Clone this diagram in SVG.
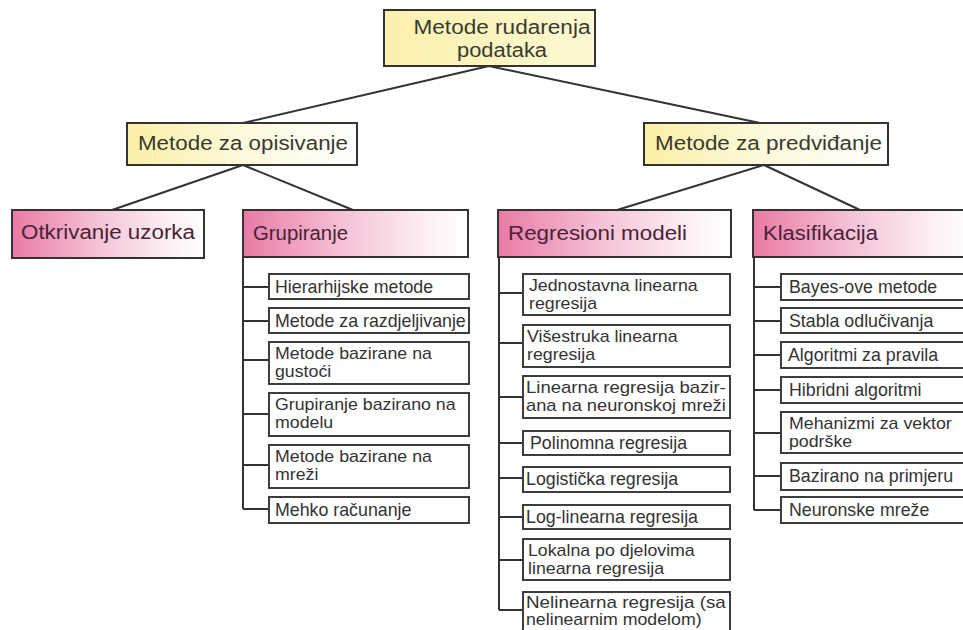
<svg xmlns="http://www.w3.org/2000/svg" width="963" height="630" viewBox="0 0 963 630">
<defs>
<linearGradient id="gyTop" x1="0" y1="0" x2="1" y2="0"><stop offset="0" stop-color="#fbf1ae"/><stop offset="1" stop-color="#fdf8d2"/></linearGradient>
<linearGradient id="gy" x1="0" y1="0" x2="1" y2="0"><stop offset="0" stop-color="#fbf0a6"/><stop offset="0.5" stop-color="#fdf9dc"/><stop offset="1" stop-color="#ffffff"/></linearGradient>
<linearGradient id="gp" x1="0" y1="0" x2="1" y2="0"><stop offset="0" stop-color="#e97aa6"/><stop offset="0.45" stop-color="#f5c3d7"/><stop offset="0.85" stop-color="#fdf3f7"/><stop offset="1" stop-color="#ffffff"/></linearGradient>
</defs>
<style>
.box{stroke:#333;stroke-width:2}
.item{fill:#fff;stroke:#3d3d3d;stroke-width:2}
.conn{stroke:#333;stroke-width:2;fill:none}
.ht{font-family:"Liberation Sans",Arial,sans-serif;font-size:20px;fill:#3a3a30}
.pt{font-family:"Liberation Sans",Arial,sans-serif;font-size:20px;fill:#4a2236}
.it{font-family:"Liberation Sans",Arial,sans-serif;font-size:17.8px;fill:#333}
.i2{font-family:"Liberation Sans",Arial,sans-serif;font-size:16px;fill:#333}
</style>
<rect width="963" height="630" fill="#ffffff"/>

<g id="connectors">
<path class="conn" d="M489 66 L243 123 M489 66 L760 123"/>
<path class="conn" d="M243 165 L112 210 M243 165 L353 210"/>
<path class="conn" d="M764 165 L617 210 M764 165 L860 210"/>
<path class="conn" d="M243 257 V509 M243 287 H269 M243 321 H269 M243 360 H269 M243 414 H269 M243 465 H269 M243 509 H269"/>
<path class="conn" d="M499 257 V610 M499 293 H523 M499 343 H523 M499 397 H523 M499 443 H523 M499 478 H523 M499 517 H523 M499 560 H523 M499 610 H523"/>
<path class="conn" d="M754 257 V510 M754 287 H781 M754 321 H781 M754 355 H781 M754 390 H781 M754 433 H781 M754 476 H781 M754 510 H781"/>
</g>

<g id="root">
<rect class="box" x="384" y="10" width="211" height="56" fill="url(#gyTop)"/>
<text class="ht" x="502" y="34" text-anchor="middle" textLength="177" lengthAdjust="spacingAndGlyphs">Metode rudarenja</text>
<text class="ht" x="502" y="57" text-anchor="middle" textLength="90" lengthAdjust="spacingAndGlyphs">podataka</text>
</g>

<g id="opisivanje">
<rect class="box" x="127" y="123" width="230" height="42" fill="url(#gy)"/>
<text class="ht" x="138" y="150" textLength="210" lengthAdjust="spacingAndGlyphs">Metode za opisivanje</text>
</g>

<g id="predvidjanje">
<rect class="box" x="644" y="123" width="244" height="42" fill="url(#gy)"/>
<text class="ht" x="655" y="150" textLength="227" lengthAdjust="spacingAndGlyphs">Metode za predviđanje</text>
</g>

<g id="otkrivanje">
<rect class="box" x="12" y="210" width="192" height="48" fill="url(#gp)"/>
<text class="pt" x="21" y="239" textLength="174" lengthAdjust="spacingAndGlyphs">Otkrivanje uzorka</text>
</g>

<g id="grupiranje">
<rect class="box" x="243" y="210" width="225" height="47" fill="url(#gp)"/>
<text class="pt" x="253" y="240" textLength="95" lengthAdjust="spacingAndGlyphs">Grupiranje</text>
</g>

<g id="regresioni">
<rect class="box" x="498" y="210" width="233" height="47" fill="url(#gp)"/>
<text class="pt" x="508" y="240" textLength="179" lengthAdjust="spacingAndGlyphs">Regresioni modeli</text>
</g>

<g id="klasifikacija">
<rect class="box" x="753" y="210" width="220" height="47" fill="url(#gp)"/>
<text class="pt" x="763" y="240" textLength="115" lengthAdjust="spacingAndGlyphs">Klasifikacija</text>
</g>

<g id="g1"><rect class="item" x="269" y="274" width="200" height="25"/><text class="it" x="275" y="293">Hierarhijske metode</text></g>
<g id="g2"><rect class="item" x="269" y="308" width="200" height="25"/><text class="it" x="275" y="327">Metode za razdjeljivanje</text></g>
<g id="g3"><rect class="item" x="269" y="342" width="200" height="42"/><g transform="translate(275 359) scale(1.11 1)"><text class="i2" x="0" y="0">Metode bazirane na</text><text class="i2" x="0" y="18.5">gustoći</text></g></g>
<g id="g4"><rect class="item" x="269" y="393" width="200" height="43"/><g transform="translate(275 410) scale(1.11 1)"><text class="i2" x="0" y="0">Grupiranje bazirano na</text><text class="i2" x="0" y="18.5">modelu</text></g></g>
<g id="g5"><rect class="item" x="269" y="445" width="200" height="43"/><g transform="translate(275 462) scale(1.11 1)"><text class="i2" x="0" y="0">Metode bazirane na</text><text class="i2" x="0" y="18.5">mreži</text></g></g>
<g id="g6"><rect class="item" x="269" y="497" width="200" height="26"/><text class="it" x="275" y="516">Mehko računanje</text></g>

<g id="r1"><rect class="item" x="523" y="274" width="207" height="41"/><g transform="translate(529 291) scale(1.11 1)"><text class="i2" x="0" y="0">Jednostavna linearna</text><text class="i2" x="0" y="18.5">regresija</text></g></g>
<g id="r2"><rect class="item" x="523" y="325" width="207" height="42"/><g transform="translate(527 342) scale(1.11 1)"><text class="i2" x="0" y="0">Višestruka linearna</text><text class="i2" x="0" y="18.5">regresija</text></g></g>
<g id="r3"><rect class="item" x="523" y="376" width="207" height="42"/><g transform="translate(526 393) scale(1.11 1)"><text class="i2" x="0" y="0" textLength="180" lengthAdjust="spacingAndGlyphs">Linearna regresija bazir-</text><text class="i2" x="0" y="18.5" textLength="180" lengthAdjust="spacingAndGlyphs">ana na neuronskoj mreži</text></g></g>
<g id="r4"><rect class="item" x="523" y="431" width="207" height="24"/><text class="it" x="530" y="449">Polinomna regresija</text></g>
<g id="r5"><rect class="item" x="523" y="467" width="207" height="25"/><text class="it" x="526" y="485">Logistička regresija</text></g>
<g id="r6"><rect class="item" x="523" y="505" width="207" height="24"/><text class="it" x="526" y="523">Log-linearna regresija</text></g>
<g id="r7"><rect class="item" x="523" y="539" width="207" height="41"/><g transform="translate(528 556) scale(1.11 1)"><text class="i2" x="0" y="0">Lokalna po djelovima</text><text class="i2" x="0" y="18.5">linearna regresija</text></g></g>
<g id="r8"><rect class="item" x="523" y="592" width="207" height="42"/><g transform="translate(526 608) scale(1.11 1)"><text class="i2" x="0" y="0" textLength="180" lengthAdjust="spacingAndGlyphs">Nelinearna regresija (sa</text><text class="i2" x="0" y="17">nelinearnim modelom)</text></g></g>

<g id="k1"><rect class="item" x="781" y="274" width="190" height="26"/><text class="it" x="789" y="293">Bayes-ove metode</text></g>
<g id="k2"><rect class="item" x="781" y="308" width="190" height="25"/><text class="it" x="789" y="327">Stabla odlučivanja</text></g>
<g id="k3"><rect class="item" x="781" y="342" width="190" height="26"/><text class="it" x="788" y="361">Algoritmi za pravila</text></g>
<g id="k4"><rect class="item" x="781" y="377" width="190" height="26"/><text class="it" x="789" y="396">Hibridni algoritmi</text></g>
<g id="k5"><rect class="item" x="781" y="412" width="190" height="41"/><g transform="translate(789 429) scale(1.11 1)"><text class="i2" x="0" y="0">Mehanizmi za vektor</text><text class="i2" x="0" y="18.5">podrške</text></g></g>
<g id="k6"><rect class="item" x="781" y="463" width="190" height="27"/><text class="it" x="789" y="482">Bazirano na primjeru</text></g>
<g id="k7"><rect class="item" x="781" y="497" width="190" height="26"/><text class="it" x="789" y="516">Neuronske mreže</text></g>
</svg>
